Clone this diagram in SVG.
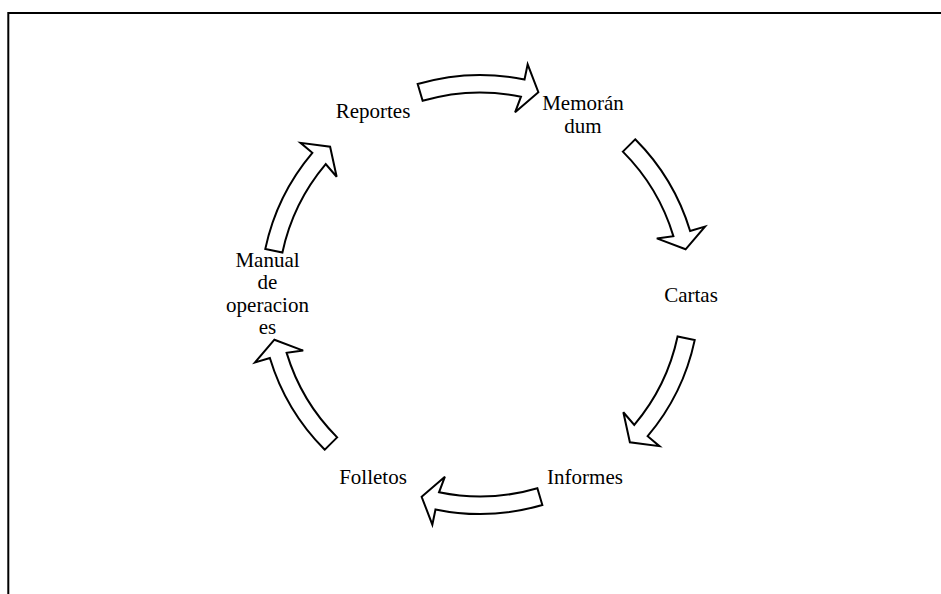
<svg xmlns="http://www.w3.org/2000/svg" xmlns:xlink="http://www.w3.org/1999/xlink" width="941" height="594" viewBox="0 0 941 594">
  <defs>
    <style>
      .frame { fill: none; stroke: #000; stroke-width: 2; }
      .arrow { fill: #fff; stroke: #000; stroke-width: 2; stroke-linejoin: miter; }
      .lbl { font-size: 21px; fill: #000; text-anchor: middle; }
    </style>
    <path id="arc-arrow" class="arrow" d="M417.66,84.04 A219.5,219.5 0 0,1 524.51,79.57 L527.66,64.39 L538.37,92.25 L515.08,112.34 L520.97,96.70 A202,202 0 0,0 422.63,100.82 Z"/>
  </defs>
  <rect width="941" height="594" fill="#fff"/>
  <path class="frame" d="M8.3,594 V13 H941"/>

  <g id="connectors">
    <use xlink:href="#arc-arrow" href="#arc-arrow"/>
    <use xlink:href="#arc-arrow" href="#arc-arrow" transform="rotate(61.5 480 294.5)"/>
    <use xlink:href="#arc-arrow" href="#arc-arrow" transform="rotate(118.5 480 294.5)"/>
    <use xlink:href="#arc-arrow" href="#arc-arrow" transform="rotate(180 480 294.5)"/>
    <use xlink:href="#arc-arrow" href="#arc-arrow" transform="rotate(241.5 480 294.5)"/>
    <use xlink:href="#arc-arrow" href="#arc-arrow" transform="rotate(298.5 480 294.5)"/>
  </g>

  <g font-family="Liberation Serif, DejaVu Serif, serif">
  <g id="node-reportes">
    <text class="lbl" x="373" y="117.5">Reportes</text>
  </g>
  <g id="node-memorandum">
    <text class="lbl" x="583" y="110">Memorán</text>
    <text class="lbl" x="583" y="132.5">dum</text>
  </g>
  <g id="node-cartas">
    <text class="lbl" x="691" y="301.5">Cartas</text>
  </g>
  <g id="node-informes">
    <text class="lbl" x="585" y="484">Informes</text>
  </g>
  <g id="node-folletos">
    <text class="lbl" x="373" y="484">Folletos</text>
  </g>
  <g id="node-manual">
    <text class="lbl" x="267.5" y="266.5">Manual</text>
    <text class="lbl" x="267.5" y="289">de</text>
    <text class="lbl" x="267.5" y="311.5">operacion</text>
    <text class="lbl" x="267.5" y="334">es</text>
  </g>
  </g>
</svg>
